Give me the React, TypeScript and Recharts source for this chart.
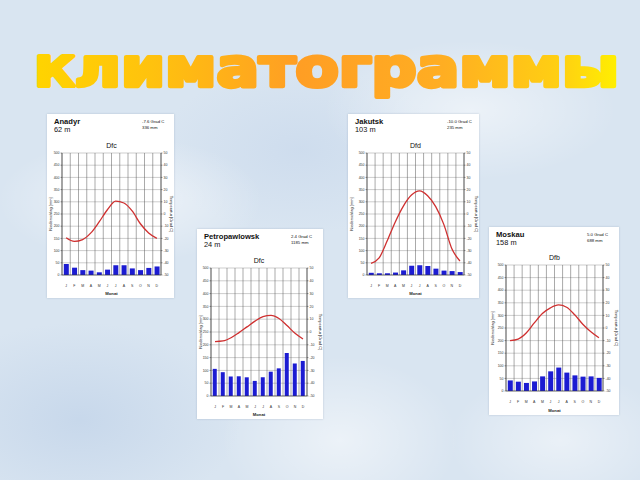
import React from 'react';
import { ComposedChart, Bar, Line, XAxis, YAxis, CartesianGrid } from 'recharts';

const months = ['J', 'F', 'M', 'A', 'M', 'J', 'J', 'A', 'S', 'O', 'N', 'D'];
const precipTicks = [0, 50, 100, 150, 200, 250, 300, 350, 400, 450, 500];
const tempTicks = [-50, -40, -30, -20, -10, 0, 10, 20, 30, 40, 50];

const anadyrPrecip = [45, 30, 20, 18, 11, 22, 40, 40, 27, 20, 29, 35];
const anadyrTemp = [-19.5, -22.5, -21, -15.5, -6.5, 3.5, 10.5, 9, 2.5, -8, -15.5, -20];

const petroPrecip = [106, 93, 76, 77, 73, 59, 73, 95, 108, 168, 127, 137];
const petroTemp = [-7.5, -7, -4.5, -0.5, 4, 8.5, 12, 13, 10.5, 5, -1, -5.5];

const jakutskPrecip = [9, 7, 7, 10, 19, 38, 40, 37, 26, 18, 16, 12];
const jakutskTemp = [-40.5, -36, -22, -6.5, 6.5, 15.5, 19, 15, 6, -8.5, -28.5, -38.5];

const moskauPrecip = [42, 37, 32, 38, 58, 78, 93, 73, 62, 57, 58, 52];
const moskauTemp = [-10, -8.8, -4, 4, 11.5, 16, 18.3, 16.5, 10.5, 3, -3, -7.8];

const stationNames = ['Anadyr', 'Petropawlowsk', 'Jakutsk', 'Moskau'];
const stationHeights = ['62 m', '24 m', '103 m', '158 m'];
const stationMeanTemp = ['-7.6 Grad C', '2.4 Grad C', '-10.0 Grad C', '5.0 Grad C'];
const stationPrecipSum = ['336 mm', '1185 mm', '235 mm', '688 mm'];
const climateClass = ['Dfc', 'Dfc', 'Dfd', 'Dfb'];

const precipSeries = [anadyrPrecip, petroPrecip, jakutskPrecip, moskauPrecip];
const tempSeries = [anadyrTemp, petroTemp, jakutskTemp, moskauTemp];

// card placement on the slide + inner plot box
const cards = [
  { left: 47, top: 114, w: 127, h: 184, pl: 15, pt: 39, pw: 99, ph: 122 },
  { left: 197, top: 229, w: 126, h: 190, pl: 14, pt: 39, pw: 96, ph: 128 },
  { left: 348, top: 114, w: 131, h: 184, pl: 19, pt: 39, pw: 97, ph: 122 },
  { left: 489, top: 227, w: 130, h: 188, pl: 17, pt: 38, pw: 97, ph: 126 },
];

const font = '"Liberation Sans", Arial, sans-serif';
const tickStyle = { fontSize: 3.5, fill: '#333', fontFamily: font };

const ClimateCard: React.FC<{ idx: number }> = ({ idx }) => {
  const c = cards[idx];
  const rows = months.map((m, i) => ({ m, p: precipSeries[idx][i], t: tempSeries[idx][i] }));
  const rightW = c.w - c.pl - c.pw;
  const midY = c.pt + c.ph / 2;
  const leftX = 3.5;
  const rightX = c.w - 3;
  return (
    <div
      style={{
        position: 'absolute',
        left: c.left,
        top: c.top,
        width: c.w,
        height: c.h,
        background: '#fff',
        boxShadow: '0 0 2px rgba(60,80,110,0.25)',
      }}
    >
      <ComposedChart
        width={c.w}
        height={c.h}
        data={rows}
        margin={{ top: c.pt, right: 0, bottom: 0, left: 0 }}
        barCategoryGap="22%"
      >
        <CartesianGrid vertical={false} stroke="#9a9a9a" strokeWidth={0.5} />
        <CartesianGrid
          horizontal={false}
          stroke="#555"
          strokeWidth={0.5}
          verticalCoordinatesGenerator={({ offset }: any) =>
            [...months.map((_, i) => offset.left + (offset.width * i) / 12), offset.left + offset.width]
          }
        />
        <XAxis
          dataKey="m"
          height={c.h - c.pt - c.ph}
          interval={0}
          tick={tickStyle}
          tickLine={false}
          tickMargin={4}
          axisLine={{ stroke: '#333', strokeWidth: 0.6 }}
          label={{ value: 'Monat', position: 'insideBottom', offset: 3, fontSize: 4.2, fontWeight: 'bold', fill: '#222', fontFamily: font }}
        />
        <YAxis
          width={c.pl}
          domain={[0, 500]}
          ticks={precipTicks}
          interval={0}
          tick={tickStyle}
          tickSize={1.5}
          tickMargin={1}
          tickLine={{ stroke: '#333', strokeWidth: 0.5 }}
          axisLine={{ stroke: '#333', strokeWidth: 0.6 }}
        />
        <YAxis
          yAxisId="t"
          orientation="right"
          width={rightW}
          domain={[-50, 50]}
          ticks={tempTicks}
          interval={0}
          tick={tickStyle}
          tickSize={1.5}
          tickMargin={1}
          tickLine={{ stroke: '#333', strokeWidth: 0.5 }}
          axisLine={{ stroke: '#333', strokeWidth: 0.6 }}
        />
        <Bar dataKey="p" fill="#1c1cd2" isAnimationActive={false} />
        <Line
          yAxisId="t"
          dataKey="t"
          type="monotone"
          stroke="#cf3030"
          strokeWidth={1.3}
          dot={false}
          isAnimationActive={false}
        />
      </ComposedChart>
      <svg
        width={c.w}
        height={c.h}
        style={{ position: 'absolute', left: 0, top: 0, pointerEvents: 'none' }}
        fontFamily={font}
      >
        <text x={7} y={9.5} fontSize={7.6} fontWeight="bold" fill="#111">{stationNames[idx]}</text>
        <text x={7} y={17.5} fontSize={7.4} fill="#111">{stationHeights[idx]}</text>
        <text x={c.w - 32} y={8.5} fontSize={4.3} fill="#111">{stationMeanTemp[idx]}</text>
        <text x={c.w - 32} y={14.5} fontSize={4.3} fill="#111">{stationPrecipSum[idx]}</text>
        <text x={c.pl + c.pw / 2} y={c.pt - 5} fontSize={7} textAnchor="middle" fill="#111">{climateClass[idx]}</text>
        <text
          x={leftX}
          y={midY}
          fontSize={4}
          textAnchor="middle"
          dominantBaseline="central"
          fill="#222"
          transform={`rotate(-90 ${leftX} ${midY})`}
        >
          Niederschlag [mm]
        </text>
        <text
          x={rightX}
          y={midY}
          fontSize={4}
          textAnchor="middle"
          dominantBaseline="central"
          fill="#222"
          transform={`rotate(90 ${rightX} ${midY})`}
        >
          Temperatur [Grad C]
        </text>
      </svg>
    </div>
  );
};

const App: React.FC = () => {
  return (
    <div
      style={{
        position: 'absolute',
        left: 0,
        top: 0,
        width: 640,
        height: 480,
        overflow: 'hidden',
        background:
          'radial-gradient(ellipse 190px 90px at 130px 200px, rgba(255,255,255,0.55), rgba(255,255,255,0) 70%),' +
          'radial-gradient(ellipse 210px 100px at 470px 110px, rgba(255,255,255,0.5), rgba(255,255,255,0) 70%),' +
          'radial-gradient(ellipse 170px 120px at 340px 440px, rgba(255,255,255,0.5), rgba(255,255,255,0) 70%),' +
          'radial-gradient(ellipse 160px 100px at 560px 440px, rgba(255,255,255,0.45), rgba(255,255,255,0) 70%),' +
          'radial-gradient(ellipse 230px 140px at 80px 420px, rgba(185,205,230,0.55), rgba(185,205,230,0) 70%),' +
          'radial-gradient(ellipse 200px 120px at 300px 150px, rgba(195,212,234,0.5), rgba(195,212,234,0) 70%),' +
          '#d9e5f1',
      }}
    >
      <svg width={640} height={110} style={{ position: 'absolute', left: 0, top: 0 }}>
        <defs>
          <linearGradient id="titleGrad" gradientUnits="userSpaceOnUse" x1={35} y1={0} x2={620} y2={0}>
            <stop offset="0" stopColor="#ffd400" />
            <stop offset="0.2" stopColor="#ffc20e" />
            <stop offset="0.45" stopColor="#ff9e24" />
            <stop offset="0.7" stopColor="#ffae22" />
            <stop offset="0.9" stopColor="#ffd012" />
            <stop offset="1" stopColor="#fff000" />
          </linearGradient>
        </defs>
        <text
          x={327}
          y={86}
          fontWeight="bold"
          fontFamily='"DejaVu Sans", sans-serif'
          textAnchor="middle"
          textLength={584}
          lengthAdjust="spacingAndGlyphs"
          fill="url(#titleGrad)"
          stroke="url(#titleGrad)"
          strokeWidth={4}
          strokeLinejoin="round"
        >
          <tspan fontSize={41}>К</tspan>
          <tspan fontSize={53}>лиматограммы</tspan>
        </text>
      </svg>
      {cards.map((_, i) => (
        <ClimateCard key={i} idx={i} />
      ))}
    </div>
  );
};

export default App;
